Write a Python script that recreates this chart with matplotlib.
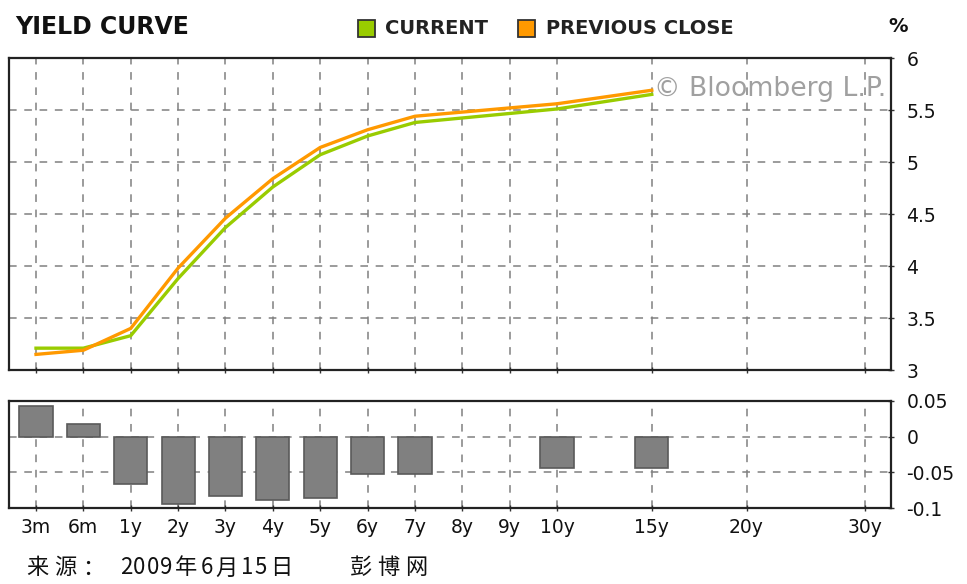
import matplotlib
matplotlib.use("Agg")
import matplotlib.pyplot as plt
from matplotlib.patches import Rectangle

# maturities on the axis and where each one sits
tenors = ["3m", "6m", "1y", "2y", "3y", "4y", "5y", "6y", "7y", "8y", "9y", "10y", "15y", "20y", "30y"]
slots = [0, 1, 2, 3, 4, 5, 6, 7, 8, 9, 10, 11, 13, 15, 17.5]
slot = dict(zip(tenors, slots))

# yields (%) for maturities that have quotes
quoted = ["3m", "6m", "1y", "2y", "3y", "4y", "5y", "6y", "7y", "10y", "15y"]
current = [3.21, 3.21, 3.33, 3.88, 4.37, 4.76, 5.07, 5.25, 5.38, 5.51, 5.65]
previous = [3.15, 3.19, 3.40, 3.98, 4.46, 4.84, 5.14, 5.31, 5.44, 5.56, 5.69]

# change since previous close
change = [0.043, 0.018, -0.067, -0.094, -0.083, -0.089, -0.086, -0.053, -0.053, -0.044, -0.044]

source = "来源： 2009年6月15日    彭博网"

GREEN = "#99cc00"
ORANGE = "#ff9900"
GRID = "#808080"

W, H = 967, 584
fig = plt.figure(figsize=(W / 100, H / 100), dpi=100)


def box(l, t, r, b):
    return [l / W, 1 - b / H, (r - l) / W, (b - t) / H]


def style(ax, ylim, yticks, gridy):
    ax.set_xlim(-0.57, 18.05)
    ax.set_ylim(*ylim)
    ax.yaxis.tick_right()
    ax.set_yticks(yticks)
    ax.set_yticklabels([f"{v:g}" for v in yticks], fontsize=13.5, color="#111111")
    ax.set_xticks(slots)
    for s in ax.spines.values():
        s.set_linewidth(1.6)
        s.set_color("#222222")
    ax.tick_params(axis="both", direction="inout", length=5, width=1, color="#333333")
    ax.tick_params(axis="y", pad=8.5)
    for x in slots:
        ax.axvline(x, color=GRID, lw=1.1, ls=(0, (5, 5)), zorder=0)
    for y in gridy:
        ax.axhline(y, color=GRID, lw=1.1, ls=(0, (5, 5)), zorder=0)


# upper panel: the curves
ax1 = fig.add_axes(box(9, 58, 891, 370))
style(ax1, (3, 6), [3, 3.5, 4, 4.5, 5, 5.5, 6], [3.5, 4, 4.5, 5, 5.5])
ax1.set_xticklabels([])
xq = [slot[t] for t in quoted]
ax1.plot(xq, current, color=GREEN, lw=2.4, solid_joinstyle="miter", zorder=3)
ax1.plot(xq, previous, color=ORANGE, lw=2.4, solid_joinstyle="miter", zorder=4)
ax1.text(13.05, 5.635, "\u00a9 Bloomberg L.P.", fontsize=19.2, color="#a0a0a0",
         ha="left", va="baseline", zorder=5, clip_on=True)

# lower panel: change bars
ax2 = fig.add_axes(box(9, 401, 891, 508))
style(ax2, (-0.1, 0.05), [-0.1, -0.05, 0, 0.05], [0, -0.05])
ax2.bar(xq, change, width=0.7, color="#808080", edgecolor="#5a5a5a", lw=1.2, zorder=3)
ax2.set_xticklabels(tenors, fontsize=13.5, color="#111111")
ax2.tick_params(axis="x", pad=5)

# header
fig.text(15 / W, 1 - 27 / H, "YIELD CURVE", fontsize=17, fontweight="bold",
         va="center", ha="left", color="#111111")
fig.patches.append(Rectangle((358 / W, 1 - 37 / H), 17 / W, 17 / H, transform=fig.transFigure,
                             facecolor=GREEN, edgecolor="#333333", lw=1.3))
fig.text(385 / W, 1 - 28 / H, "CURRENT", fontsize=14, fontweight="bold",
         va="center", ha="left", color="#222222")
fig.patches.append(Rectangle((518 / W, 1 - 37 / H), 17 / W, 17 / H, transform=fig.transFigure,
                             facecolor=ORANGE, edgecolor="#333333", lw=1.3))
fig.text(546 / W, 1 - 28 / H, "PREVIOUS CLOSE", fontsize=14, fontweight="bold",
         va="center", ha="left", color="#222222")
fig.text(888 / W, 1 - 27 / H, "%", fontsize=14, fontweight="bold",
         va="center", ha="left", color="#111111")

# source line, one character per cell like the old bitmap font
x = 24
for ch in source:
    cell = 27.5 if ord(ch) > 127 else 13.2
    if ch != " ":
        fig.text((x + cell / 2) / W, 1 - 568 / H, ch, fontsize=16,
                 family=["Noto Sans CJK SC", "DejaVu Sans"], va="center", ha="center",
                 color="#111111")
    x += cell

fig.savefig("out.png", dpi=100, facecolor="white")
